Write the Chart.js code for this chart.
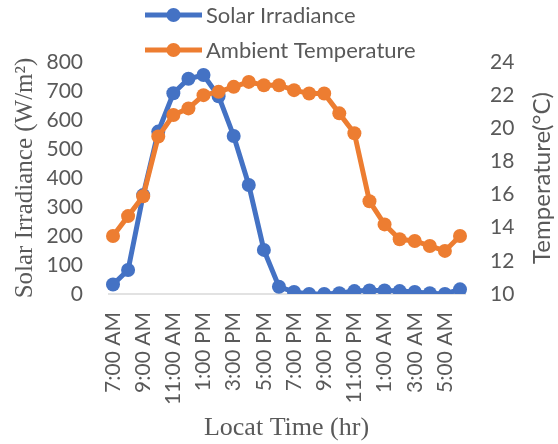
<!DOCTYPE html>
<html>
<head>
<meta charset="utf-8">
<script src="https://cdn.jsdelivr.net/npm/chart.js@4.4.1/dist/chart.umd.min.js"></script>
<style>
  html, body { margin: 0; padding: 0; background: #ffffff; }
  #wrap { width: 558px; height: 444px; }
</style>
</head>
<body>
<div id="wrap"><canvas id="chart" width="558" height="444"></canvas></div>
<script>
// Hourly categories, 7:00 AM through 6:00 AM the next morning
const hours = [
  '7:00 AM', '8:00 AM', '9:00 AM', '10:00 AM', '11:00 AM', '12:00 PM',
  '1:00 PM', '2:00 PM', '3:00 PM', '4:00 PM', '5:00 PM', '6:00 PM',
  '7:00 PM', '8:00 PM', '9:00 PM', '10:00 PM', '11:00 PM', '12:00 AM',
  '1:00 AM', '2:00 AM', '3:00 AM', '4:00 AM', '5:00 AM', '6:00 AM'
];

// Solar irradiance, W/m²
const solarIrradiance = [
  33, 83, 341, 560, 692, 742, 755, 682, 545, 376, 152, 25,
  7, 0, 0, 3, 10, 12, 12, 10, 7, 3, 0, 16
];

// Ambient temperature, °C
const ambientTemperature = [
  13.5, 14.7, 15.9, 19.5, 20.8, 21.2, 22.0, 22.2, 22.5, 22.8, 22.6, 22.6,
  22.3, 22.1, 22.1, 20.9, 19.7, 15.6, 14.2, 13.3, 13.2, 12.9, 12.6, 13.5
];

// Axis ranges and tick steps
const irradianceTicks = { min: 0, max: 800, step: 100 };
const temperatureTicks = { min: 10, max: 24, step: 2 };

const BLUE = '#4472C4';
const ORANGE = '#ED7D31';
const TEXT = '#595959';
const SANS = 'Lato, "Open Sans", sans-serif';
const SERIF = '"Liberation Serif", "DejaVu Serif", serif';

// Stacked legend: line + marker swatch followed by the series name
const stackedLegend = {
  id: 'stackedLegend',
  afterDraw(chart) {
    const ctx = chart.ctx;
    const rows = [15, 50];
    ctx.save();
    chart.data.datasets.forEach((ds, i) => {
      const y = rows[i];
      ctx.strokeStyle = ds.borderColor;
      ctx.lineWidth = 5;
      ctx.beginPath();
      ctx.moveTo(145, y);
      ctx.lineTo(202, y);
      ctx.stroke();
      ctx.fillStyle = ds.borderColor;
      ctx.beginPath();
      ctx.arc(173.5, y, 7, 0, Math.PI * 2);
      ctx.fill();
      ctx.fillStyle = TEXT;
      ctx.font = '22px ' + SANS;
      ctx.textBaseline = 'middle';
      ctx.textAlign = 'left';
      ctx.fillText(ds.label, 206, y + 1);
    });
    ctx.restore();
  }
};

// Baseline under the plot and the right-hand title (reads bottom to top)
const axisExtras = {
  id: 'axisExtras',
  beforeDatasetsDraw(chart) {
    const { ctx, chartArea } = chart;
    const y0 = chart.scales.y.getPixelForValue(irradianceTicks.min);
    ctx.save();
    ctx.strokeStyle = '#d9d9d9';
    ctx.lineWidth = 1.5;
    ctx.beginPath();
    ctx.moveTo(chartArea.left - 5, y0);
    ctx.lineTo(chartArea.right + 6, y0);
    ctx.stroke();
    ctx.restore();
  },
  afterDraw(chart) {
    const { ctx, chartArea } = chart;
    const cy = (chartArea.top + chartArea.bottom) / 2;
    ctx.save();
    ctx.translate(542, cy);
    ctx.rotate(-Math.PI / 2);
    ctx.fillStyle = TEXT;
    ctx.font = '24px ' + SANS;
    ctx.textAlign = 'center';
    ctx.textBaseline = 'middle';
    ctx.fillText('Temperature(°C)', 0, 0);
    ctx.restore();
  }
};

new Chart(document.getElementById('chart'), {
  type: 'line',
  data: {
    labels: hours,
    datasets: [
      {
        label: 'Solar Irradiance',
        data: solarIrradiance,
        yAxisID: 'y',
        borderColor: BLUE,
        backgroundColor: BLUE,
        borderWidth: 5,
        pointRadius: 7,
        pointBorderWidth: 0,
        pointBackgroundColor: BLUE,
        tension: 0,
        order: 1
      },
      {
        label: 'Ambient Temperature',
        data: ambientTemperature,
        yAxisID: 'y1',
        borderColor: ORANGE,
        backgroundColor: ORANGE,
        borderWidth: 5,
        pointRadius: 7,
        pointBorderWidth: 0,
        pointBackgroundColor: ORANGE,
        tension: 0,
        order: 0
      }
    ]
  },
  options: {
    responsive: false,
    animation: false,
    devicePixelRatio: 1,
    layout: { padding: { top: 62, left: 0, right: 0, bottom: 0 } },
    plugins: {
      legend: { display: false },
      tooltip: { enabled: false }
    },
    scales: {
      x: {
        type: 'category',
        offset: false,
        grid: { display: false, drawTicks: false },
        border: { display: false },
        ticks: {
          autoSkip: false,
          minRotation: 90,
          maxRotation: 90,
          padding: 18,
          color: TEXT,
          font: { family: SANS, size: 21 },
          callback: function (value, index) {
            return index % 2 === 0 ? hours[index] : '';
          }
        },
        title: {
          display: true,
          text: 'Locat Time (hr)',
          color: TEXT,
          font: { family: SERIF, size: 26 },
          padding: { top: 0, bottom: 0 }
        },
        afterFit(scale) { scale.height = 150; }
      },
      y: {
        position: 'left',
        min: irradianceTicks.min,
        max: irradianceTicks.max,
        grid: { display: false, drawTicks: false },
        border: { display: false },
        ticks: {
          stepSize: irradianceTicks.step,
          padding: 30,
          color: TEXT,
          font: { family: SANS, size: 21 }
        },
        title: {
          display: true,
          text: 'Solar Irradiance (W/m²)',
          color: TEXT,
          font: { family: SERIF, size: 25 },
          padding: { top: 10, bottom: 0 }
        },
        afterFit(scale) { scale.width = 113; }
      },
      y1: {
        position: 'right',
        min: temperatureTicks.min,
        max: temperatureTicks.max,
        grid: { display: false, drawTicks: false },
        border: { display: false },
        ticks: {
          stepSize: temperatureTicks.step,
          padding: 30,
          color: TEXT,
          font: { family: SANS, size: 21 }
        },
        afterFit(scale) { scale.width = 98; }
      }
    }
  },
  plugins: [stackedLegend, axisExtras]
});
</script>
</body>
</html>
